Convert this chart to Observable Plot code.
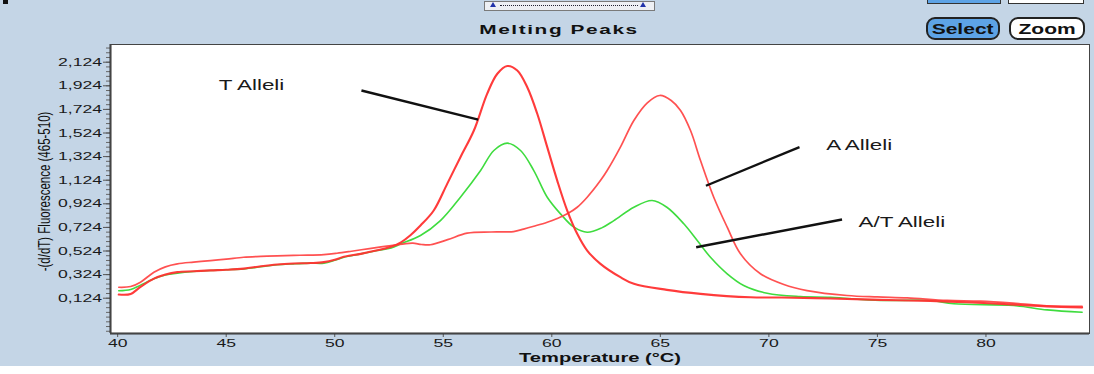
<!DOCTYPE html>
<html><head><meta charset="utf-8">
<script src="https://cdn.jsdelivr.net/npm/d3@7"></script>
<script src="https://cdn.jsdelivr.net/npm/@observablehq/plot@0.6"></script>
<style>
html,body{margin:0;padding:0;background:#c4d5e6;}
#wrap{position:relative;width:1094px;height:374px;overflow:hidden;background:#c4d5e6;font-family:"Liberation Sans",Arial,sans-serif;}
#wrap svg{position:absolute;left:0;top:0;}
.title{position:absolute;left:559px;top:22px;font-weight:bold;font-size:13px;letter-spacing:1px;color:#111;transform:translateX(-50%) scaleX(1.6);white-space:nowrap;line-height:15px;}
.btn{position:absolute;top:17px;height:23px;border:2px solid #222;border-radius:9px;box-sizing:border-box;display:flex;align-items:center;justify-content:center;font-weight:bold;font-size:14px;color:#111;}
.btn span{display:inline-block;transform:scaleX(1.5);}
.deco{position:absolute;box-sizing:border-box;}
</style></head>
<body>
<div id="wrap">
  <div class="deco" style="left:0;top:366px;width:1094px;height:8px;background:#fff"></div>
  <div class="deco" style="left:3px;top:-2px;width:5px;height:6px;background:#111"></div>
  <div class="deco" style="left:484px;top:1px;width:171px;height:10px;background:#eef0f4;border:1px solid #7a7a7a;"></div>
  <div class="deco" style="left:500px;top:5px;width:138px;height:1px;border-top:1px dotted #223;"></div>
  <div class="deco" style="left:490px;top:2px;width:0;height:0;border-left:3px solid transparent;border-right:3px solid transparent;border-bottom:5px solid #2233aa;"></div>
  <div class="deco" style="left:640px;top:2px;width:0;height:0;border-left:3px solid transparent;border-right:3px solid transparent;border-bottom:5px solid #2233aa;"></div>
  <div class="deco" style="left:927px;top:-4px;width:74px;height:8px;background:#5da3e6;border:1px solid #333"></div>
  <div class="deco" style="left:1008px;top:-4px;width:76px;height:8px;background:#fff;border:1px solid #333"></div>
  <div class="title">Melting Peaks</div>
  <div class="btn" style="left:926px;width:74px;background:#5da3e6;"><span>Select</span></div>
  <div class="btn" style="left:1009px;width:76px;background:#fff;"><span>Zoom</span></div>
</div>
<script>
// ---- data ----
const tTemp = [40.05, 40.6, 41.05, 41.67, 42.2, 42.75, 43.5, 44.28, 45.0, 45.81, 46.6, 47.35, 48.1, 48.89, 49.5, 50.0, 50.42, 51.2, 51.96, 52.6, 53.05, 53.5, 53.95, 54.56, 55.18, 55.79, 56.41, 57.02, 57.49, 57.95, 58.41, 58.87, 59.33, 59.79, 60.25, 60.71, 61.17, 61.63, 62.24, 63.16, 63.78, 65.3, 66.85, 69.15, 70.6, 72.84, 75.14, 77.44, 79.1, 81.3, 82.8, 84.43];
const tVal  = [0.155, 0.16, 0.22, 0.29, 0.325, 0.345, 0.352, 0.36, 0.365, 0.375, 0.395, 0.41, 0.418, 0.422, 0.43, 0.45, 0.475, 0.5, 0.53, 0.56, 0.598, 0.66, 0.74, 0.867, 1.093, 1.319, 1.545, 1.856, 2.026, 2.092, 2.054, 1.912, 1.687, 1.404, 1.121, 0.867, 0.67, 0.528, 0.415, 0.302, 0.246, 0.195, 0.161, 0.132, 0.13, 0.122, 0.11, 0.1, 0.09, 0.07, 0.055, 0.045];

const aTemp = [40.05, 40.6, 41.05, 41.67, 42.2, 42.75, 43.5, 44.28, 45.0, 45.8, 46.6, 47.35, 48.4, 49.5, 50.1, 50.7, 51.6, 52.4, 53.2, 53.6, 54.0, 54.41, 55.2, 56.1, 57.2, 58.24, 58.7, 59.17, 59.79, 60.25, 60.71, 61.17, 61.63, 62.24, 62.55, 63.16, 63.78, 64.4, 64.97, 65.5, 65.93, 66.39, 66.85, 67.46, 68.08, 68.69, 69.61, 70.69, 71.76, 73.6, 75.0, 76.37, 78.2, 79.75, 81.59, 82.8, 84.43];
const aVal  = [0.217, 0.223, 0.26, 0.344, 0.39, 0.415, 0.43, 0.443, 0.455, 0.471, 0.478, 0.483, 0.488, 0.494, 0.505, 0.52, 0.545, 0.565, 0.585, 0.59, 0.579, 0.577, 0.62, 0.675, 0.685, 0.689, 0.71, 0.734, 0.768, 0.8, 0.839, 0.895, 0.98, 1.121, 1.206, 1.404, 1.63, 1.78, 1.842, 1.8, 1.715, 1.545, 1.291, 0.98, 0.726, 0.5, 0.331, 0.24, 0.189, 0.147, 0.135, 0.127, 0.105, 0.099, 0.077, 0.06, 0.055];

const atTemp = [40.05, 40.6, 41.05, 41.67, 42.2, 42.75, 43.5, 44.28, 45.0, 45.81, 46.6, 47.35, 48.1, 48.89, 49.5, 50.0, 50.42, 51.2, 51.96, 52.6, 53.05, 53.95, 54.87, 55.79, 56.72, 57.33, 57.95, 58.56, 59.17, 59.79, 60.4, 61.02, 61.63, 62.3, 62.86, 63.78, 64.62, 65.3, 66.08, 66.7, 67.31, 68.08, 68.84, 69.92, 71.45, 72.84, 75.14, 77.44, 78.52, 81.28, 82.82, 84.43];
const atVal  = [0.187, 0.198, 0.235, 0.288, 0.32, 0.336, 0.35, 0.359, 0.365, 0.373, 0.39, 0.407, 0.415, 0.421, 0.421, 0.445, 0.471, 0.5, 0.528, 0.55, 0.585, 0.655, 0.782, 0.98, 1.206, 1.376, 1.438, 1.376, 1.206, 0.98, 0.839, 0.726, 0.683, 0.72, 0.782, 0.895, 0.952, 0.895, 0.755, 0.613, 0.471, 0.331, 0.232, 0.166, 0.138, 0.132, 0.105, 0.105, 0.077, 0.062, 0.025, 0.005];

const xTicks = [40, 45, 50, 55, 60, 65, 70, 75, 80];
const yTicks = [0.124, 0.324, 0.524, 0.724, 0.924, 1.124, 1.324, 1.524, 1.724, 1.924, 2.124];

const annLabels = ["T Alleli", "A Alleli", "A/T Alleli"];
const annTextX  = [44.66, 72.64, 74.13];
const annTextY  = [1.927, 1.421, 0.767];
const annFromX  = [51.23, 71.41, 73.37];
const annFromY  = [1.884, 1.405, 0.791];
const annToX    = [56.61, 67.10, 66.65];
const annToY    = [1.638, 1.077, 0.556];

const xLabel = "Temperature (°C)";
const yLabel = "-(d/dT) Fluorescence (465-510)";

// ---- build ----
const rows = (ts, vs) => ts.map((t, i) => ({t, v: vs[i]}));
const tRows = rows(tTemp, tVal), aRows = rows(aTemp, aVal), atRows = rows(atTemp, atVal);
const annRows = annLabels.map((label, i) => ({label, tx: annTextX[i], ty: annTextY[i], x1: annFromX[i], y1: annFromY[i], x2: annToX[i], y2: annToY[i]}));

const xDomain = [39.67, 84.77];
const yDomain = [-0.175, 2.274];
const yMinor = d3.range(-0.156, 2.26, 0.04);
const fmt = d => d.toFixed(3).replace(".", ",");

const chart = Plot.plot({
  width: 1094, height: 374,
  marginTop: 44, marginLeft: 110, marginRight: 5, marginBottom: 41,
  style: {background: "transparent", fontFamily: "'Liberation Sans', Arial, sans-serif", fontSize: "11px", color: "#1a1a1a", overflow: "visible"},
  x: {domain: xDomain},
  y: {domain: yDomain},
  marks: [
    Plot.frame({fill: "white", stroke: null}),
    Plot.axisY({ticks: yMinor, tickSize: 4, tickFormat: () => "", label: null, stroke: "#666"}),
    Plot.axisY({ticks: yTicks, tickSize: 7, tickPadding: 1.5, tickFormat: fmt, label: null, stroke: "#555", fontSize: 11}),
    Plot.axisX({ticks: xTicks, tickSize: 4, tickPadding: 2, label: null, stroke: "#555", fontSize: 11}),
    Plot.line(atRows, {x: "t", y: "v", stroke: "#3fdc3f", strokeWidth: 1.6, curve: "catmull-rom"}),
    Plot.line(aRows, {x: "t", y: "v", stroke: "#ff4848", strokeWidth: 1.7, curve: "catmull-rom", strokeOpacity: 0.95}),
    Plot.line(tRows, {x: "t", y: "v", stroke: "#ff3030", strokeWidth: 2.1, curve: "catmull-rom", strokeOpacity: 0.95}),
    Plot.link(annRows, {x1: "x1", y1: "y1", x2: "x2", y2: "y2", stroke: "#111", strokeWidth: 2.4}),
    Plot.text(annRows, {x: "tx", y: "ty", text: "label", textAnchor: "start", fontSize: 14, fill: "#1a1a1a"}),
    Plot.text([xLabel], {frameAnchor: "bottom", textAnchor: "middle", lineAnchor: "middle", dy: 24, fontWeight: "bold", fontSize: 13, fill: "#111"}),
    Plot.text([yLabel], {frameAnchor: "left", textAnchor: "middle", lineAnchor: "middle", dx: -66, dy: 2.5, rotate: -90, fontSize: 11.5, fill: "#111"}),
    Plot.ruleX([xDomain[0]], {stroke: "#333", strokeWidth: 2}),
    Plot.ruleY([yDomain[0]], {stroke: "#333", strokeWidth: 2}),
    Plot.frame({stroke: "#444", strokeWidth: 1})
  ]
});

// horizontal stretch of the text, as in the reference screenshot
const S = 1.6;
chart.querySelectorAll("text").forEach(el => {
  const tr = el.getAttribute("transform") || "";
  const gtr = (el.parentNode && el.parentNode.getAttribute && el.parentNode.getAttribute("transform")) || "";
  if (tr.includes("rotate") || gtr.includes("rotate")) { el.setAttribute("transform", tr + " scale(1,1.4)"); return; }
  const x = +(el.getAttribute("x") || 0);
  const s = el.textContent === xLabel ? 1.55 : S;
  el.setAttribute("transform", `${tr} translate(${x},0) scale(${s},1) translate(${-x},0)`);
});

document.getElementById("wrap").prepend(chart);
</script>
</body></html>
